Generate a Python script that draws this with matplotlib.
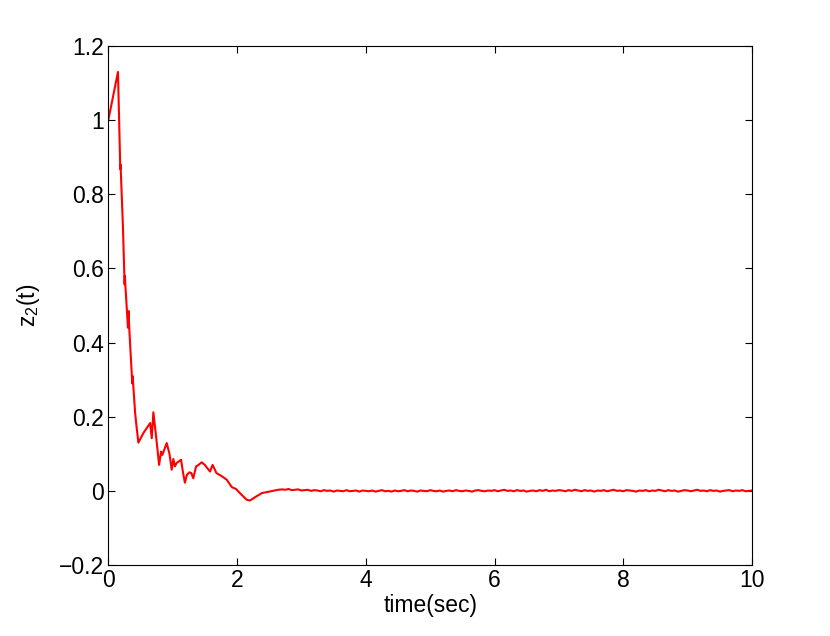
import numpy as np
import matplotlib
matplotlib.use("Agg")
import matplotlib.pyplot as plt

plt.rcParams['font.family'] = ['Liberation Sans', 'DejaVu Sans']
plt.rcParams['mathtext.fontset'] = 'custom'
plt.rcParams['mathtext.rm'] = 'Liberation Sans'
plt.rcParams['mathtext.it'] = 'Liberation Sans'

# transient part
t_early = [0.0, 0.15, 0.186, 0.19, 0.227, 0.253, 0.258, 0.265, 0.305, 0.315, 0.325,
           0.372, 0.378, 0.415, 0.43, 0.467, 0.545, 0.65, 0.675, 0.70, 0.742, 0.789,
           0.82, 0.84, 0.907, 0.95, 0.985, 1.01, 1.035, 1.06, 1.10, 1.13, 1.16, 1.19,
           1.22, 1.26, 1.29, 1.32, 1.364, 1.40, 1.45, 1.50, 1.58, 1.62, 1.68, 1.76,
           1.84, 1.92, 1.985, 2.05, 2.15, 2.20, 2.28, 2.385, 2.50, 2.64]
z_early = [1.0, 1.13, 0.868, 0.88, 0.714, 0.557, 0.58, 0.555, 0.44, 0.485, 0.44,
           0.29, 0.31, 0.214, 0.187, 0.13, 0.156, 0.183, 0.142, 0.212, 0.147, 0.07,
           0.106, 0.097, 0.129, 0.10, 0.057, 0.086, 0.066, 0.075, 0.08, 0.084, 0.05, 0.022,
           0.043, 0.05, 0.048, 0.034, 0.066, 0.07, 0.077, 0.07, 0.052, 0.07, 0.048, 0.04,
           0.03, 0.01, 0.005, -0.007, -0.024, -0.026, -0.017, -0.006, -0.002, 0.003]

# steady-state small fluctuations (t = 2.7 ... 10, step 0.05)
z_tail = [0.004, 0.003, 0.005, 0.002, 0.003, 0.004, 0.001, 0.002, 0.003, 0.000,
          0.002, 0.001, -0.001, 0.002, 0.000, 0.001, -0.002, 0.001, 0.000, -0.001,
          0.002, -0.001, 0.000, 0.001, -0.002, 0.001, 0.000, -0.001, 0.001, -0.002,
          0.000, 0.002, -0.001, 0.000, -0.002, 0.001, -0.001, 0.000, 0.002, -0.001,
          0.001, 0.000, -0.002, 0.001, 0.000, -0.001, 0.002, 0.000, -0.001, 0.001,
          -0.002, 0.000, 0.001, -0.001, 0.002, 0.000, -0.001, 0.001, 0.000, -0.002,
          0.001, 0.002, 0.000, -0.001, 0.001, 0.000, 0.002, -0.001, 0.001, 0.003,
          0.000, 0.001, -0.001, 0.002, 0.000, 0.001, -0.002, 0.000, 0.001, -0.001,
          0.002, 0.000, 0.003, -0.001, 0.001, 0.000, 0.002, 0.001, -0.001, 0.002,
          0.000, 0.003, 0.001, -0.001, 0.002, 0.000, 0.001, -0.002, 0.001, 0.000,
          0.002, -0.001, 0.001, 0.003, 0.000, 0.001, -0.001, 0.002, 0.001, 0.000,
          -0.002, 0.001, 0.000, 0.002, -0.001, 0.001, 0.000, 0.003, 0.001, -0.001,
          0.002, 0.000, 0.001, -0.002, 0.000, 0.002, 0.001, -0.001, 0.001, 0.003,
          0.000, 0.001, -0.001, 0.002, 0.000, 0.001, -0.002, 0.000, 0.001, 0.002,
          -0.001, 0.001, 0.000, 0.002, -0.001, 0.000, 0.001]
t_tail = list(np.round(np.arange(2.70, 10.0001, 0.05), 3))[:len(z_tail)]

t = list(t_early) + t_tail
z = list(z_early) + z_tail

xticks = [0, 2, 4, 6, 8, 10]
yticks = [-0.2, 0, 0.2, 0.4, 0.6, 0.8, 1, 1.2]
yticklabels = ['\u22120.2', '0', '0.2', '0.4', '0.6', '0.8', '1', '1.2']

fig = plt.figure(figsize=(8.30, 6.36), dpi=100)
ax = fig.add_axes([0.1305, 0.1116, 0.7755, 0.8161])
ax.plot(t, z, color='#ff0000', linewidth=1.5)
ax.set_xlim(0, 10)
ax.set_ylim(-0.2, 1.2)
ax.set_xticks(xticks)
ax.set_xticklabels([str(v) for v in xticks])
ax.set_yticks(yticks)
ax.set_yticklabels(yticklabels)
ax.tick_params(direction='in', length=5, width=0.8, labelsize=16.5, pad=3,
               top=True, right=True)
for s in ax.spines.values():
    s.set_linewidth(0.8)
ax.set_xlabel('time(sec)', fontsize=16.5, labelpad=1)
ax.set_ylabel(r'z$_{\mathregular{2}}$(t)', fontsize=16.5, labelpad=12)

fig.savefig('out.png', dpi=100)
